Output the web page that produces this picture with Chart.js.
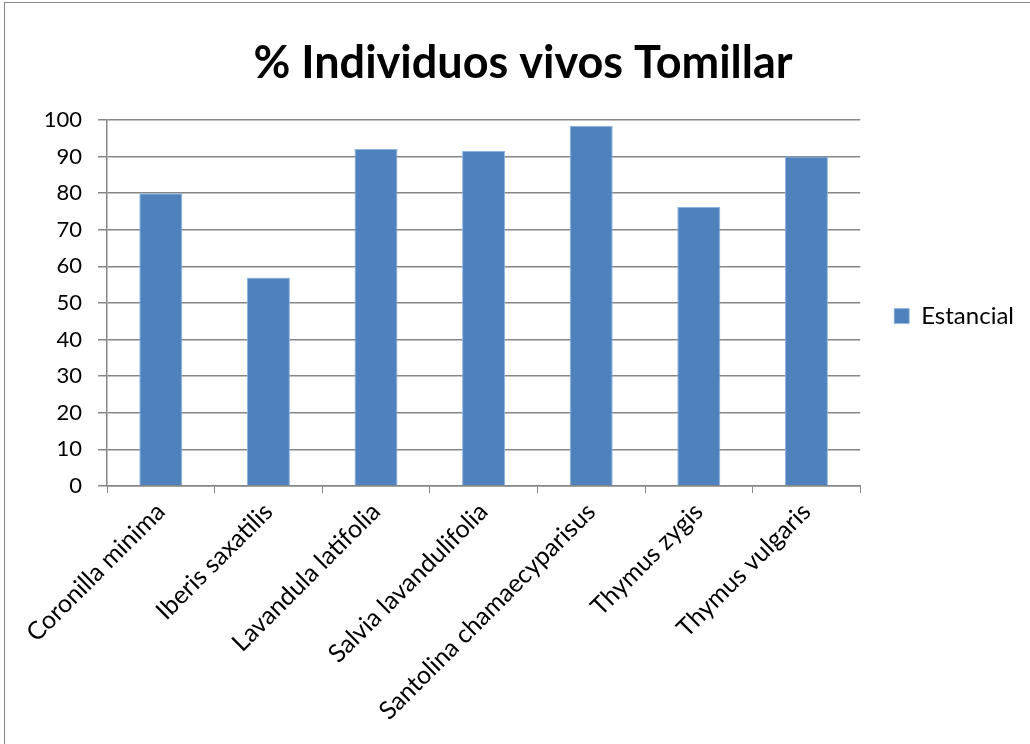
<!DOCTYPE html>
<html>
<head>
<meta charset="utf-8">
<script src="https://cdn.jsdelivr.net/npm/chart.js@4.4.1/dist/chart.umd.min.js"></script>
<style>
  html, body { margin: 0; padding: 0; background: #fff; }
  #frame { position: absolute; left: 4px; top: 2px; width: 1100px; height: 800px; border: 1px solid #8a8a8a; }
  #wrap { position: absolute; left: 0; top: 0; width: 1030px; height: 744px; }
</style>
</head>
<body>
<div id="frame"></div>
<div id="wrap"><canvas id="chart"></canvas></div>
<script>
// Chart data
const species = [
  "Coronilla minima",
  "Iberis saxatilis",
  "Lavandula latifolia",
  "Salvia lavandulifolia",
  "Santolina chamaecyparisus",
  "Thymus zygis",
  "Thymus vulgaris"
];
const estancial = [80, 57, 92.1, 91.5, 98.4, 76.2, 90];
const seriesName = "Estancial";
const chartTitle = "% Individuos vivos Tomillar";

const FONT = "Lato, 'Open Sans', sans-serif";
const GRID = "#868686";
const BAR = "#4f81bd";

const ctx = document.getElementById("chart").getContext("2d");
new Chart(ctx, {
  type: "bar",
  data: {
    labels: species,
    datasets: [{
      label: seriesName,
      data: estancial,
      backgroundColor: BAR,
      borderColor: "#8db3e2",
      borderWidth: { top: 1, left: 1, right: 1, bottom: 0 },
      barPercentage: 0.4,
      categoryPercentage: 1
    }]
  },
  options: {
    responsive: true,
    maintainAspectRatio: false,
    animation: false,
    // left padding shifts the title centre to match the original frame
    layout: { padding: { left: 22, right: 6, top: 0, bottom: 0 } },
    plugins: {
      title: {
        display: true,
        text: chartTitle,
        color: "#000",
        font: { family: FONT, size: 45, weight: "bold", lineHeight: 1.2 },
        padding: { top: 36, bottom: 30 }
      },
      legend: {
        position: "right",
        fullSize: false,
        labels: {
          color: "#000",
          font: { family: FONT, size: 24 },
          boxWidth: 15,
          boxHeight: 15,
          padding: 34
        },
        // empty title only nudges the entry down a little
        title: { display: true, text: "", font: { size: 1 }, padding: { top: 0, bottom: 25 } }
      },
      tooltip: { enabled: false }
    },
    scales: {
      x: {
        afterFit: s => { s.height = 258; },
        grid: {
          drawOnChartArea: false,
          drawTicks: true,
          tickLength: 7,
          color: GRID,
          offset: true
        },
        border: { color: GRID, width: 1.5 },
        ticks: {
          color: "#000",
          font: { family: FONT, size: 25 },
          maxRotation: 45,
          minRotation: 45,
          autoSkip: false,
          padding: 4
        }
      },
      y: {
        min: 0,
        max: 100,
        afterFit: s => { s.width = 85; },
        grid: { color: GRID, lineWidth: 1.5, tickLength: 9 },
        border: { color: GRID, width: 1.5 },
        ticks: {
          stepSize: 10,
          color: "#000",
          font: { family: FONT, size: 22 },
          padding: 16
        }
      }
    }
  }
});
</script>
</body>
</html>
